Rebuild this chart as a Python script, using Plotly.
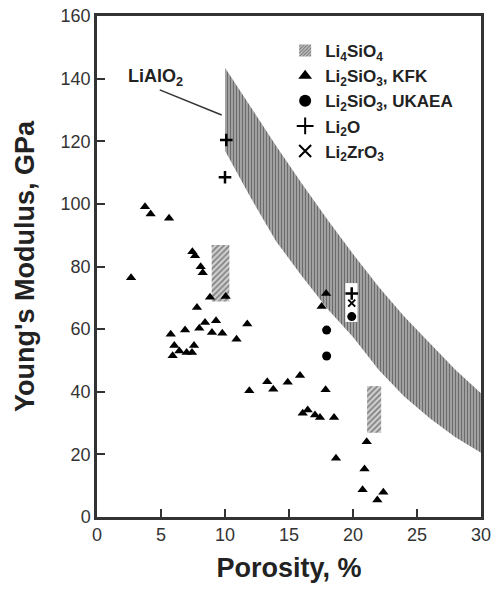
import plotly.graph_objects as go

# ---- Data ----
# Li4SiO4 band (upper and lower edges)
band_upper_x = [10, 12, 14, 16, 18, 20, 22, 24, 26, 28, 30]
band_upper_y = [143.5, 131, 118.5, 106.5, 95, 84, 73.5, 64, 55.5, 47, 39.5]
band_lower_x = [10, 12, 14, 16, 18, 20, 22, 24, 26, 28, 30]
band_lower_y = [117, 102, 88, 77, 66.5, 57.5, 47, 38.5, 31.5, 25.5, 20.5]

# Li4SiO4 small hatched rectangles: (x0, x1, y0, y1)
rect1 = [8.96, 10.34, 68.8, 86.9]
rect2 = [21.1, 22.2, 26.9, 41.8]

# white inset box around the Li2O / Li2ZrO3 / UKAEA cluster
box = [19.4, 20.35, 62.3, 74.7]

# Li2SiO3, KFK
kfk_x = [3.75, 4.19, 5.63, 7.45, 7.66, 8.1, 8.26, 2.66, 8.83, 10.05, 7.81, 8.44,
         9.3, 7.99, 6.88, 5.76, 8.98, 9.79, 10.9, 11.74, 6.04, 7.58, 6.43, 7.0,
         7.42, 5.91, 13.3, 13.77, 14.9, 15.86, 17.86, 16.07, 16.46, 17.03, 17.42,
         18.52, 21.07, 18.67, 20.9, 20.75, 22.37, 21.9, 11.9, 17.55, 17.9]
kfk_y = [99.1, 96.8, 95.4, 84.7, 83.4, 79.9, 78.0, 76.4, 70.2, 70.4, 66.9, 62.1,
         62.7, 60.3, 59.7, 58.4, 58.9, 58.7, 56.8, 61.6, 54.8, 54.8, 53.0, 52.5,
         52.5, 51.5, 43.2, 40.8, 43.0, 45.2, 40.6, 33.1, 34.2, 32.6, 31.8,
         31.8, 24.0, 18.8, 15.3, 8.7, 7.9, 5.4, 40.3, 67.2, 71.4]

# Li2SiO3, UKAEA
ukaea_x = [17.94, 17.94, 19.9]
ukaea_y = [59.7, 51.4, 64.0]

# Li2O
li2o_x = [10.1, 10.0, 19.9]
li2o_y = [120.4, 108.5, 71.4]

# Li2ZrO3
lizr_x = [19.9]
lizr_y = [68.3]

# LiAlO2 label and leader line
lialo2_text_xy = [4.6, 140.5]
lialo2_line_x = [4.9, 9.74]
lialo2_line_y = [136.4, 128.4]

x_ticks = [0, 5, 10, 15, 20, 25, 30]
y_ticks = [0, 20, 40, 60, 80, 100, 120, 140, 160]

FONT = "Liberation Sans, Arial, sans-serif"
AX = "#333333"

fig = go.Figure()

# legend carrier for Li4SiO4 (square hatched swatch)
fig.add_trace(go.Bar(
    x=[None], y=[None], name="Li<sub>4</sub>SiO<sub>4</sub>",
    marker=dict(color="#d0d0d0", line=dict(width=0),
                pattern=dict(shape="/", size=3, solidity=0.55, fgcolor="#222", bgcolor="#cfcfcf")),
    showlegend=True, hoverinfo="skip"))

# band
fig.add_trace(go.Scatter(
    x=band_upper_x + band_lower_x[::-1],
    y=band_upper_y + band_lower_y[::-1],
    mode="lines", fill="toself", line=dict(width=0, color="rgba(0,0,0,0)"),
    fillcolor="white",
    fillpattern=dict(shape="|", size=3, solidity=0.6, fgcolor="#111111", bgcolor="#c4c4c4"),
    showlegend=False, hoverinfo="skip"))


def rect_xy(r):
    x0, x1, y0, y1 = r
    return [x0, x1, x1, x0, x0], [y0, y0, y1, y1, y0]


for r in [rect1, rect2]:
    rx, ry = rect_xy(r)
    fig.add_trace(go.Scatter(
        x=rx, y=ry, mode="lines", fill="toself",
        line=dict(width=0, color="rgba(0,0,0,0)"),
        fillcolor="white",
        fillpattern=dict(shape="/", size=4, solidity=0.45, fgcolor="#333333", bgcolor="#d0d0d0"),
        showlegend=False, hoverinfo="skip"))

bx, by = rect_xy(box)
fig.add_trace(go.Scatter(x=bx, y=by, mode="lines", fill="toself",
                         line=dict(width=0, color="white"), fillcolor="white",
                         showlegend=False, hoverinfo="skip"))

fig.add_trace(go.Scatter(x=kfk_x, y=kfk_y, mode="markers",
                         marker=dict(symbol="triangle-up", size=9, color="black"),
                         name="Li<sub>2</sub>SiO<sub>3</sub>, KFK"))
fig.add_trace(go.Scatter(x=ukaea_x, y=ukaea_y, mode="markers",
                         marker=dict(symbol="circle", size=9, color="black"),
                         name="Li<sub>2</sub>SiO<sub>3</sub>, UKAEA"))
fig.add_trace(go.Scatter(x=li2o_x, y=li2o_y, mode="markers",
                         marker=dict(symbol="cross-thin", size=9, color="black",
                                     line=dict(width=2.5, color="black")),
                         name="Li<sub>2</sub>O"))
fig.add_trace(go.Scatter(x=lizr_x, y=lizr_y, mode="markers",
                         marker=dict(symbol="x-thin", size=7, color="black",
                                     line=dict(width=2, color="black")),
                         name="Li<sub>2</sub>ZrO<sub>3</sub>"))

fig.add_trace(go.Scatter(x=lialo2_line_x, y=lialo2_line_y, mode="lines",
                         line=dict(color="#333333", width=1.5),
                         showlegend=False, hoverinfo="skip"))

fig.add_annotation(x=lialo2_text_xy[0], y=lialo2_text_xy[1], text="LiAlO<sub>2</sub>",
                   showarrow=False, font=dict(family=FONT, size=18, color="#222", weight="bold"))

fig.update_layout(
    width=498, height=592,
    margin=dict(l=97, r=17, t=16, b=75, autoexpand=False),
    paper_bgcolor="white", plot_bgcolor="white",
    font=dict(family=FONT, color="#222"),
    showlegend=True,
    legend=dict(x=0.49, y=0.966, xanchor="left", yanchor="top",
                bgcolor="rgba(0,0,0,0)", font=dict(size=17, family=FONT, weight="bold", color="#222"),
                itemsizing="constant", tracegroupgap=0),
)
fig.update_xaxes(range=[0, 30], tickvals=x_ticks, ticks="inside", ticklen=8, tickwidth=2,
                 tickcolor=AX, showline=True, linewidth=2.5, linecolor=AX, mirror=True,
                 showgrid=False, zeroline=False, automargin=False,
                 tickfont=dict(size=18, family=FONT, color="#333"),
                 title=dict(text="<b>Porosity, %</b>", font=dict(size=27, family=FONT, color="#222"),
                            standoff=14))
fig.update_yaxes(range=[0, 160], tickvals=y_ticks, ticks="inside", ticklen=8, tickwidth=2,
                 tickcolor=AX, showline=True, linewidth=2.5, linecolor=AX, mirror=True,
                 showgrid=False, zeroline=False, automargin=False,
                 tickfont=dict(size=18, family=FONT, color="#333"),
                 title=dict(text="<b>Young's Modulus, GPa</b>", font=dict(size=27, family=FONT, color="#222"),
                            standoff=19))

# remove the page's default 8px body margin so the 498x592 figure fills the window
fig.write_html("out.html", config={"displayModeBar": False},
               post_script="document.body.style.margin='0px';")
